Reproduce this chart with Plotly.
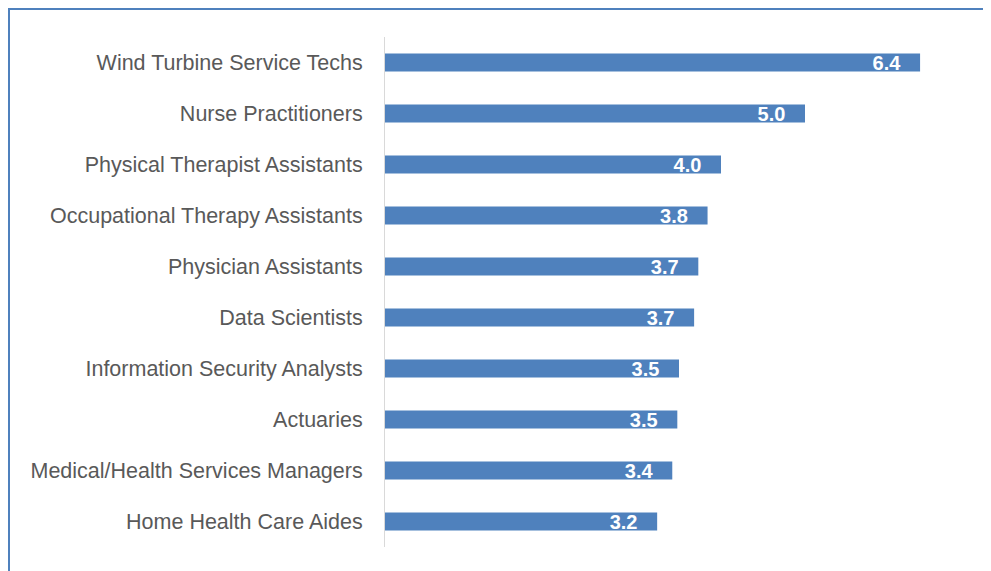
import plotly.graph_objects as go

categories = [
    "Wind Turbine Service Techs",
    "Nurse Practitioners",
    "Physical Therapist Assistants",
    "Occupational Therapy Assistants",
    "Physician Assistants",
    "Data Scientists",
    "Information Security Analysts",
    "Actuaries",
    "Medical/Health Services Managers",
    "Home Health Care Aides",
]
values = [6.37, 5.0, 4.0, 3.84, 3.73, 3.68, 3.5, 3.48, 3.42, 3.24]

# page places the figure at an 8px body margin
W, H = 983, 563
L, R, T, B = 377, 18, 29, 24
pw, ph = W - L - R, H - T - B

fig = go.Figure(go.Bar(
    x=values, y=categories, orientation="h",
    marker=dict(color="#4F81BD", line=dict(width=0)),
    texttemplate="%{x:.1f}\u00a0\u00a0\u00a0",
    textposition="inside", insidetextanchor="end",
    textfont=dict(family="Liberation Sans", size=20, color="white", weight="bold"),
    constraintext="none", hoverinfo="skip",
))

fig.update_layout(
    width=W, height=H,
    margin=dict(l=L, r=R, t=T, b=B),
    paper_bgcolor="white", plot_bgcolor="white",
    bargap=0.647,
    showlegend=False,
    uniformtext=dict(minsize=20, mode="show"),
    font=dict(family="Liberation Sans", size=21.5, color="#595959"),
    xaxis=dict(range=[0, 7], showticklabels=False, showgrid=False, zeroline=False,
               showline=False, ticks=""),
    yaxis=dict(autorange="reversed", showgrid=False, zeroline=False, showline=True,
               linecolor="#D9D9D9", linewidth=1, ticks="", ticklabelstandoff=17,
               tickfont=dict(family="Liberation Sans", size=21.5, color="#595959")),
    shapes=[dict(type="rect", xref="paper", yref="paper",
                 x0=(1 - L) / pw, x1=1.2,
                 y0=-0.2, y1=(H - B - 1) / ph,
                 line=dict(color="#4F81BD", width=2), fillcolor="rgba(0,0,0,0)",
                 layer="below")],
)

fig.write_html("out.html")
